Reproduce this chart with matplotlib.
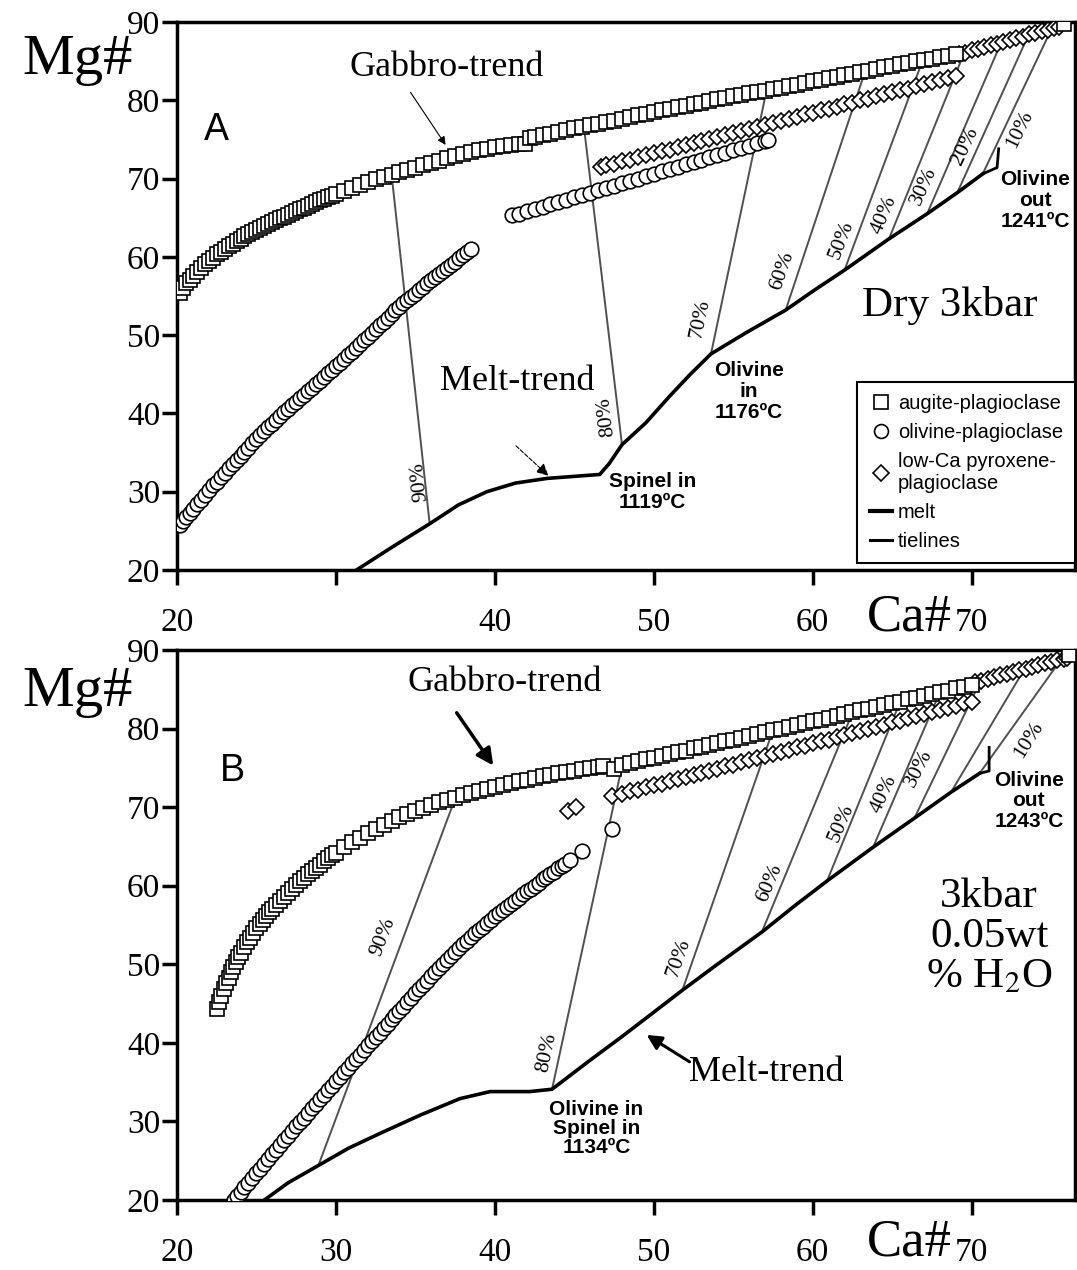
"""
Mg# vs Ca# of gabbro and melt trends, two panels (A: dry 3 kbar, B: 3 kbar 0.05 wt% H2O).
Values read by eye from the published figure.
"""

import matplotlib
matplotlib.use("Agg")
import matplotlib.pyplot as plt
from matplotlib.lines import Line2D

SERIF = "Liberation Serif"
SANS = "Liberation Sans"
plt.rcParams["mathtext.fontset"] = "stix"

# ---------------- Panel A (dry 3 kbar) ----------------
a_aug1_ca = [20.2, 20.4, 20.6, 20.8, 21.0, 21.25, 21.5, 21.75, 22.0, 22.25,
             22.5, 22.75, 23.0, 23.25, 23.5, 23.75, 24.0, 24.25, 24.5, 24.75,
             25.0, 25.25, 25.5, 25.75, 26.0, 26.25, 26.5, 26.75, 27.0, 27.25,
             27.5, 27.75, 28.0, 28.25, 28.5, 28.75, 29.0, 29.25, 29.5, 29.75,
             30.0, 30.5, 31.0, 31.5, 32.0, 32.5, 33.0, 33.5, 34.0, 34.5,
             35.0, 35.5, 36.0, 36.5, 37.0, 37.5, 38.0, 38.5, 39.0, 39.5,
             40.0, 40.5, 41.0, 41.5, 41.9]
a_aug1_mg = [55.4, 56.0, 56.6, 57.1, 57.6, 58.1, 58.6, 59.05, 59.5, 59.9,
             60.3, 60.65, 61.0, 61.35, 61.7, 62.0, 62.3, 62.6, 62.9, 63.15,
             63.4, 63.65, 63.9, 64.15, 64.4, 64.65, 64.9, 65.15, 65.4, 65.65,
             65.9, 66.1, 66.3, 66.55, 66.8, 67.0, 67.2, 67.4, 67.6, 67.8,
             68.0, 68.4, 68.8, 69.2, 69.5, 69.9, 70.2, 70.5, 70.8, 71.1,
             71.4, 71.7, 72.0, 72.3, 72.6, 72.9, 73.1, 73.4, 73.6, 73.8,
             74.0, 74.2, 74.3, 74.4, 74.4]
a_aug2_ca = [42.2, 42.5, 43.0, 43.5, 44.0, 44.5, 45.0, 45.5, 46.0, 46.5,
             47.0, 47.5, 48.0, 48.5, 49.0, 49.5, 50.0, 50.5, 51.0, 51.5,
             52.0, 52.5, 53.0, 53.5, 54.0, 54.5, 55.0, 55.5, 56.0, 56.5,
             57.0, 57.5, 58.0, 58.5, 59.0, 59.5, 60.0, 60.5, 61.0, 61.5,
             62.0, 62.5, 63.0, 63.5, 64.0, 64.5, 65.0, 65.5, 66.0, 66.5,
             67.0, 67.5, 68.0, 68.5, 69.0, 75.8]
a_aug2_mg = [75.2, 75.3, 75.5, 75.7, 75.9, 76.2, 76.4, 76.6, 76.8, 77.0,
             77.2, 77.4, 77.6, 77.8, 78.1, 78.3, 78.5, 78.7, 78.9, 79.1,
             79.3, 79.5, 79.7, 79.9, 80.1, 80.3, 80.5, 80.7, 80.9, 81.1,
             81.2, 81.4, 81.6, 81.8, 82.0, 82.2, 82.4, 82.6, 82.8, 83.0,
             83.2, 83.4, 83.6, 83.8, 84.0, 84.2, 84.4, 84.6, 84.8, 85.0,
             85.1, 85.3, 85.5, 85.7, 85.9, 89.7]

a_ol1_ca = [20.2, 20.4, 20.6, 20.8, 21.0, 21.25, 21.5, 21.75, 22.0, 22.25,
            22.5, 22.75, 23.0, 23.25, 23.5, 23.75, 24.0, 24.25, 24.5, 24.75,
            25.0, 25.25, 25.5, 25.75, 26.0, 26.25, 26.5, 26.75, 27.0, 27.25,
            27.5, 27.75, 28.0, 28.25, 28.5, 28.75, 29.0, 29.25, 29.5, 29.75,
            30.0, 30.25, 30.5, 30.75, 31.0, 31.25, 31.5, 31.75, 32.0, 32.25,
            32.5, 32.75, 33.0, 33.25, 33.5, 33.75, 34.0, 34.25, 34.5, 34.75,
            35.0, 35.25, 35.5, 35.75, 36.0, 36.25, 36.5, 36.75, 37.0, 37.25,
            37.5, 37.75, 38.0, 38.25, 38.5]
a_ol1_mg = [25.8, 26.3, 26.8, 27.3, 27.8, 28.4, 29.0, 29.6, 30.2, 30.8,
            31.3, 31.9, 32.4, 33.0, 33.5, 34.1, 34.6, 35.1, 35.6, 36.2,
            36.7, 37.2, 37.7, 38.2, 38.7, 39.2, 39.7, 40.2, 40.6, 41.1,
            41.5, 42.0, 42.4, 42.9, 43.3, 43.8, 44.2, 44.7, 45.1, 45.6,
            46.0, 46.5, 47.0, 47.5, 47.9, 48.4, 48.9, 49.4, 49.8, 50.3,
            50.8, 51.3, 51.7, 52.2, 52.7, 53.2, 53.6, 54.1, 54.5, 54.9,
            55.3, 55.8, 56.2, 56.6, 57.0, 57.4, 57.8, 58.2, 58.6, 59.0,
            59.4, 59.8, 60.2, 60.6, 61.0]
a_ol2_ca = [41.1, 41.5, 42.0, 42.5, 43.0, 43.5, 44.0, 44.5, 45.0, 45.5,
            46.0, 46.5, 47.0, 47.5, 48.0, 48.5, 49.0, 49.5, 50.0, 50.5,
            51.0, 51.5, 52.0, 52.5, 53.0, 53.5, 54.0, 54.5, 55.0, 55.5,
            56.0, 56.5, 57.0, 57.2]
a_ol2_mg = [65.3, 65.5, 65.8, 66.1, 66.4, 66.7, 67.0, 67.3, 67.6, 67.9,
            68.2, 68.5, 68.8, 69.1, 69.4, 69.7, 70.0, 70.3, 70.6, 70.9,
            71.2, 71.5, 71.8, 72.1, 72.4, 72.7, 73.0, 73.3, 73.6, 73.9,
            74.2, 74.5, 74.8, 74.9]

a_px1_ca = [46.7, 47.0, 47.5, 48.0, 48.5, 49.0, 49.5, 50.0, 50.5, 51.0,
            51.5, 52.0, 52.5, 53.0, 53.5, 54.0, 54.5, 55.0, 55.5, 56.0,
            56.5, 57.0, 57.5, 58.0, 58.5, 59.0, 59.5, 60.0, 60.5, 61.0,
            61.5, 62.0, 62.5, 63.0, 63.5, 64.0, 64.5, 65.0, 65.5, 66.0,
            66.5, 67.0, 67.5, 68.0, 68.5, 69.0]
a_px1_mg = [71.5, 71.7, 71.9, 72.2, 72.4, 72.7, 73.0, 73.2, 73.5, 73.7,
            74.0, 74.3, 74.5, 74.8, 75.0, 75.3, 75.6, 75.8, 76.1, 76.3,
            76.6, 76.9, 77.1, 77.4, 77.6, 77.9, 78.2, 78.4, 78.7, 78.9,
            79.2, 79.5, 79.7, 80.0, 80.2, 80.5, 80.8, 81.0, 81.3, 81.5,
            81.8, 82.1, 82.3, 82.6, 82.8, 83.1]
a_px2_ca = [69.2, 69.6, 70.0, 70.4, 70.8, 71.2, 71.6, 72.0, 72.4, 72.8,
            73.2, 73.6, 74.0, 74.4, 74.8, 75.2, 75.5]
a_px2_mg = [85.9, 86.1, 86.4, 86.6, 86.8, 87.0, 87.2, 87.5, 87.7, 87.9,
            88.1, 88.4, 88.6, 88.8, 89.0, 89.2, 89.4]

a_melt_ca = [31.3, 33.6, 35.9, 37.7, 39.5, 41.3, 43.3, 46.6, 47.2, 48.0,
             49.5, 51.0, 52.3, 53.6, 55.8, 58.3, 60.0, 62.0, 64.8, 67.2,
             69.1, 70.7]
a_melt_mg = [20.0, 23.0, 25.9, 28.3, 30.0, 31.1, 31.7, 32.2, 33.6, 36.0,
             38.8, 42.2, 45.0, 47.6, 50.3, 53.2, 55.6, 58.3, 62.3, 65.5,
             68.2, 70.6]

# tielines: melt end -> solid end
a_tie_labels = ["90%", "80%", "70%", "60%", "50%", "40%", "30%", "20%", "10%"]
a_tie_ca0 = [35.9, 48.0, 53.6, 58.3, 62.0, 64.8, 67.2, 69.1, 70.7]
a_tie_mg0 = [25.9, 36.0, 47.6, 53.2, 58.3, 62.3, 65.5, 68.2, 70.6]
a_tie_ca1 = [33.5, 45.6, 57.1, 63.3, 66.9, 69.6, 71.8, 73.5, 75.0]
a_tie_mg1 = [70.6, 76.7, 81.3, 83.7, 85.0, 86.4, 87.1, 88.0, 89.0]
a_lab_ca = [35.3, 47.0, 52.9, 58.1, 61.8, 64.5, 67.0, 69.6, 73.0]
a_lab_mg = [31.3, 39.6, 52.1, 58.2, 62.2, 65.4, 69.1, 74.1, 76.3]
a_lab_rot = [96, 97, 78, 71, 69, 67, 66, 65, 64]

# ---------------- Panel B (3 kbar, 0.05 wt% H2O) ----------------
b_aug1_ca = [22.5, 22.65, 22.8, 22.95, 23.1, 23.25, 23.4, 23.55, 23.7, 23.85,
             24.0, 24.2, 24.4, 24.6, 24.8, 25.0, 25.2, 25.4, 25.6, 25.8,
             26.0, 26.25, 26.5, 26.75, 27.0, 27.25, 27.5, 27.75, 28.0, 28.25,
             28.5, 28.75, 29.0, 29.25, 29.5, 29.75, 30.0, 30.5,
             31.0, 31.5, 32.0, 32.5, 33.0, 33.5, 34.0, 34.5, 35.0, 35.5,
             36.0, 36.5, 37.0, 37.5, 38.0, 38.5, 39.0, 39.5, 40.0, 40.5,
             41.0, 41.5, 42.0, 42.5, 43.0, 43.5, 44.0, 44.5, 45.0, 45.5,
             46.0, 46.5, 46.8, 47.5]
b_aug1_mg = [44.3, 45.2, 46.0, 46.8, 47.6, 48.3, 49.0, 49.7, 50.3, 50.9,
             51.5, 52.2, 52.8, 53.4, 54.0, 54.6, 55.1, 55.6, 56.1, 56.6,
             57.0, 57.6, 58.1, 58.6, 59.1, 59.6, 60.1, 60.6, 61.0, 61.5,
             61.9, 62.3, 62.7, 63.1, 63.5, 63.9, 64.2, 64.9,
             65.5, 66.1, 66.7, 67.2, 67.7, 68.2, 68.7, 69.1, 69.5, 69.9,
             70.3, 70.6, 70.9, 71.2, 71.5, 71.8, 72.1, 72.3, 72.6, 72.8,
             73.1, 73.3, 73.5, 73.7, 73.9, 74.1, 74.3, 74.5, 74.6, 74.8,
             75.0, 75.1, 75.2, 74.9]
b_aug2_ca = [48.0, 48.5, 49.0, 49.5, 50.0, 50.5, 51.0, 51.5, 52.0, 52.5,
             53.0, 53.5, 54.0, 54.5, 55.0, 55.5, 56.0, 56.5, 57.0, 57.5,
             58.0, 58.5, 59.0, 59.5, 60.0, 60.5, 61.0, 61.5, 62.0, 62.5,
             63.0, 63.5, 64.0, 64.5, 65.0, 65.5, 66.0, 66.5, 67.0, 67.5,
             68.0, 68.5, 69.0, 69.5, 70.0, 76.1]
b_aug2_mg = [75.4, 75.6, 75.9, 76.1, 76.3, 76.5, 76.8, 77.0, 77.2, 77.5,
             77.7, 77.9, 78.2, 78.4, 78.6, 78.8, 79.1, 79.3, 79.5, 79.8,
             80.0, 80.2, 80.5, 80.7, 80.9, 81.1, 81.4, 81.6, 81.8, 82.1,
             82.3, 82.5, 82.8, 83.0, 83.2, 83.4, 83.7, 83.9, 84.1, 84.4,
             84.6, 84.8, 85.1, 85.3, 85.5, 89.4]

b_ol1_ca = [23.6, 23.8, 24.0, 24.25, 24.5, 24.75, 25.0, 25.25, 25.5, 25.75,
            26.0, 26.25, 26.5, 26.75, 27.0, 27.25, 27.5, 27.75, 28.0, 28.25,
            28.5, 28.75, 29.0, 29.25, 29.5, 29.75, 30.0, 30.25, 30.5, 30.75,
            31.0, 31.25, 31.5, 31.75, 32.0, 32.25, 32.5, 32.75, 33.0, 33.25,
            33.5, 33.75, 34.0, 34.25, 34.5, 34.75, 35.0, 35.25, 35.5, 35.75,
            36.0, 36.25, 36.5, 36.75, 37.0, 37.25, 37.5, 37.75, 38.0, 38.25,
            38.5, 38.75, 39.0, 39.25, 39.5, 39.75, 40.0, 40.25, 40.5, 40.75,
            41.0, 41.25, 41.5, 41.75, 42.0, 42.25, 42.5, 42.75, 43.0, 43.25,
            43.5, 43.75, 44.0, 44.2, 44.4, 44.7]
b_ol1_mg = [20.0, 20.5, 21.0, 21.6, 22.2, 22.8, 23.4, 24.0, 24.6, 25.2,
            25.8, 26.4, 27.0, 27.6, 28.2, 28.8, 29.4, 29.9, 30.5, 31.1,
            31.7, 32.2, 32.8, 33.4, 34.0, 34.5, 35.1, 35.7, 36.3, 36.8,
            37.4, 37.9, 38.5, 39.1, 39.7, 40.2, 40.8, 41.3, 41.9, 42.4,
            43.0, 43.5, 44.1, 44.6, 45.2, 45.7, 46.3, 46.8, 47.4, 47.9,
            48.5, 49.0, 49.5, 50.0, 50.6, 51.1, 51.6, 52.1, 52.6, 53.0,
            53.5, 54.0, 54.4, 54.8, 55.3, 55.7, 56.1, 56.5, 56.9, 57.3,
            57.7, 58.1, 58.5, 58.9, 59.3, 59.6, 60.0, 60.4, 60.8, 61.1,
            61.5, 61.8, 62.2, 62.5, 62.8, 63.3]
b_ol2_ca = [45.5, 47.4]
b_ol2_mg = [64.4, 67.2]

b_px0_ca = [44.6, 45.1]
b_px0_mg = [69.5, 70.0]
b_px1_ca = [47.4, 48.0, 48.5, 49.0, 49.5, 50.0, 50.5, 51.0, 51.5, 52.0,
            52.5, 53.0, 53.5, 54.0, 54.5, 55.0, 55.5, 56.0, 56.5, 57.0,
            57.5, 58.0, 58.5, 59.0, 59.5, 60.0, 60.5, 61.0, 61.5, 62.0,
            62.5, 63.0, 63.5, 64.0, 64.5, 65.0, 65.5, 66.0, 66.5, 67.0,
            67.5, 68.0, 68.5, 69.0, 69.5, 70.0]
b_px1_mg = [71.4, 71.7, 72.0, 72.2, 72.5, 72.8, 73.0, 73.3, 73.6, 73.8,
            74.1, 74.4, 74.6, 74.9, 75.2, 75.4, 75.7, 76.0, 76.2, 76.5,
            76.8, 77.0, 77.3, 77.6, 77.8, 78.1, 78.4, 78.6, 78.9, 79.2,
            79.4, 79.7, 80.0, 80.2, 80.5, 80.8, 81.0, 81.3, 81.6, 81.8,
            82.1, 82.4, 82.6, 82.9, 83.2, 83.4]
b_px2_ca = [70.2, 70.6, 71.0, 71.4, 71.8, 72.2, 72.6, 73.0, 73.4, 73.8,
            74.2, 74.6, 75.0, 75.4, 75.8, 76.0]
b_px2_mg = [85.9, 86.1, 86.3, 86.6, 86.8, 87.0, 87.2, 87.4, 87.6, 87.8,
            88.1, 88.3, 88.5, 88.7, 88.9, 89.0]

b_melt_ca = [25.5, 27.0, 28.9, 30.8, 32.8, 35.3, 37.8, 39.7, 42.2, 43.6,
             46.0, 48.0, 50.0, 51.8, 54.0, 56.8, 58.9, 60.9, 63.8, 66.4,
             68.7, 70.5]
b_melt_mg = [20.0, 22.2, 24.4, 26.6, 28.5, 30.8, 32.9, 33.8, 33.8, 34.1,
             37.8, 40.8, 43.9, 46.7, 50.0, 54.1, 57.5, 60.6, 64.9, 68.6,
             71.9, 74.3]

b_tie_ca0 = [28.9, 43.6, 51.8, 56.8, 60.9, 63.8, 66.4, 68.7, 70.5]
b_tie_mg0 = [24.4, 34.1, 46.7, 54.1, 60.6, 64.9, 68.6, 71.9, 74.3]
b_tie_ca1 = [37.3, 48.0, 57.5, 62.5, 65.5, 68.0, 70.5, 73.3, 75.7]
b_tie_mg1 = [70.0, 75.2, 79.8, 82.0, 83.4, 84.6, 85.8, 87.5, 89.0]
b_tie_labels = ["90%", "80%", "70%", "60%", "50%", "40%", "30%", "10%"]
b_lab_ca = [33.0, 43.3, 51.6, 57.3, 61.8, 64.5, 66.7, 73.6]
b_lab_mg = [53.5, 38.7, 50.8, 60.3, 68.0, 71.7, 74.9, 78.5]
b_lab_rot = [69, 78, 71, 67, 67, 65, 63, 58]

x_ticks = [20, 30, 40, 50, 60, 70]
a_xticklabels = ["20", "", "40", "50", "60", "70"]
b_xticklabels = ["20", "30", "40", "50", "60", "70"]
y_ticks = [20, 30, 40, 50, 60, 70, 80, 90]

MK = dict(ls="none", mfc="white", mec="black", mew=1.2)


def draw_panel(ax, aug, ol, px, melt, ties, labels, xticklabels):
    """Squares, circles, diamonds, melt line and tielines for one panel."""
    for x0, y0, x1, y1 in zip(*ties):
        ax.plot([x0, x1], [y0, y1], color="#505050", lw=1.4, zorder=1)
    ax.plot(melt[0], melt[1], color="black", lw=2.6, zorder=2)

    for cx, cy in ol:
        ax.plot(cx, cy, marker="o", ms=10.5, zorder=3, **MK)
    for cx, cy in px:
        ax.plot(cx, cy, marker="D", ms=8, zorder=3, **MK)
    for cx, cy in aug:
        ax.plot(cx, cy, marker="s", ms=10, zorder=4, **MK)

    for txt, lx, ly, rot in zip(*labels):
        ax.text(lx, ly, txt, rotation=rot, fontsize=15.5, family=SERIF,
                ha="center", va="center", rotation_mode="anchor")

    ax.set_xlim(20, 76.5)
    ax.set_ylim(20, 90)
    ax.set_xticks(x_ticks)
    ax.set_xticklabels(xticklabels)
    ax.set_yticks(y_ticks)
    for lab in ax.get_xticklabels() + ax.get_yticklabels():
        lab.set_family(SERIF)
    ax.tick_params(axis="both", direction="out", length=11, width=2.5,
                   labelsize=24)
    ax.tick_params(axis="x", pad=16)
    ax.tick_params(axis="y", pad=1)
    for sp in ax.spines.values():
        sp.set_linewidth(2.5)


def main():
    fig = plt.figure(figsize=(10.77, 12.7), dpi=100)
    axA = fig.add_axes([0.1643, 0.5512, 0.8338, 0.4315])
    axB = fig.add_axes([0.1643, 0.0551, 0.8338, 0.4331])

    # ---- panel A ----
    draw_panel(axA,
               [(a_aug1_ca, a_aug1_mg), (a_aug2_ca, a_aug2_mg)],
               [(a_ol1_ca, a_ol1_mg), (a_ol2_ca, a_ol2_mg)],
               [(a_px1_ca, a_px1_mg), (a_px2_ca, a_px2_mg)],
               (a_melt_ca, a_melt_mg),
               (a_tie_ca0, a_tie_mg0, a_tie_ca1, a_tie_mg1),
               (a_tie_labels, a_lab_ca, a_lab_mg, a_lab_rot),
               a_xticklabels)
    # olivine-out hook
    axA.plot([70.7, 71.6, 71.7], [70.6, 71.4, 73.8], color="black", lw=2, zorder=2)

    axA.text(37.0, 84.2, "Gabbro-trend", family=SERIF, fontsize=26,
             ha="center", va="center")
    axA.annotate("", xy=(37.0, 74.0), xytext=(34.6, 81.3),
                 arrowprops=dict(arrowstyle="-|>", lw=0.8, color="black",
                                 mutation_scale=12))
    axA.text(22.5, 76.2, "A", family=SANS, fontsize=27, ha="center", va="center")
    axA.text(41.4, 44.1, "Melt-trend", family=SERIF, fontsize=26,
             ha="center", va="center")
    axA.annotate("", xy=(43.5, 31.8), xytext=(41.2, 36.1),
                 arrowprops=dict(arrowstyle="-|>", lw=0.8, ls="--",
                                 color="black", mutation_scale=18))
    axA.text(49.9, 30.0, "Spinel in\n1119ºC", family=SANS, weight="bold",
             fontsize=15, ha="center", va="center", linespacing=1.15)
    axA.text(56.0, 42.8, "Olivine\nin\n1176ºC", family=SANS, weight="bold",
             fontsize=15, ha="center", va="center", linespacing=1.15)
    axA.text(74.0, 67.2, "Olivine\nout\n1241ºC", family=SANS, weight="bold",
             fontsize=15, ha="center", va="center", linespacing=1.15)
    axA.text(68.6, 53.8, "Dry 3kbar", family=SERIF, fontsize=31,
             ha="center", va="center")

    handles = [
        Line2D([], [], marker="s", ms=10, **MK),
        Line2D([], [], marker="o", ms=10, **MK),
        Line2D([], [], marker="D", ms=8, **MK),
        Line2D([], [], color="black", lw=3),
        Line2D([], [], color="black", lw=2.2),
    ]
    names = ["augite-plagioclase", "olivine-plagioclase",
             "low-Ca pyroxene-\nplagioclase", "melt", "tielines"]
    leg = axA.legend(handles, names, loc="lower right",
                     bbox_to_anchor=(1.0, 0.012), borderaxespad=0.0,
                     prop={"family": SANS, "size": 14.5}, handlelength=1.1,
                     handletextpad=0.3, labelspacing=0.5, fancybox=False,
                     framealpha=1, edgecolor="black", borderpad=0.6)
    leg.get_frame().set_linewidth(1.5)

    # ---- panel B ----
    draw_panel(axB,
               [(b_aug1_ca, b_aug1_mg), (b_aug2_ca, b_aug2_mg)],
               [(b_ol1_ca, b_ol1_mg), (b_ol2_ca, b_ol2_mg)],
               [(b_px0_ca, b_px0_mg), (b_px1_ca, b_px1_mg), (b_px2_ca, b_px2_mg)],
               (b_melt_ca, b_melt_mg),
               (b_tie_ca0, b_tie_mg0, b_tie_ca1, b_tie_mg1),
               (b_tie_labels, b_lab_ca, b_lab_mg, b_lab_rot),
               b_xticklabels)
    axB.plot([70.5, 71.1, 71.1], [74.3, 74.6, 77.6], color="black", lw=2, zorder=2)

    axB.text(40.6, 85.8, "Gabbro-trend", family=SERIF, fontsize=26,
             ha="center", va="center")
    axB.annotate("", xy=(40.0, 75.0), xytext=(37.5, 82.3),
                 arrowprops=dict(arrowstyle="-|>", lw=2.5, color="black",
                                 mutation_scale=25))
    axB.text(23.5, 74.6, "B", family=SANS, fontsize=27, ha="center", va="center")
    axB.text(57.1, 36.2, "Melt-trend", family=SERIF, fontsize=26,
             ha="center", va="center")
    axB.annotate("", xy=(49.4, 41.2), xytext=(52.4, 37.4),
                 arrowprops=dict(arrowstyle="-|>", lw=2.2, color="black",
                                 mutation_scale=22))
    axB.text(46.4, 29.1, "Olivine in\nSpinel in\n1134ºC", family=SANS,
             weight="bold", fontsize=15, ha="center", va="center",
             linespacing=1.0)
    axB.text(73.6, 70.8, "Olivine\nout\n1243ºC", family=SANS, weight="bold",
             fontsize=15, ha="center", va="center", linespacing=1.1)
    axB.text(71.1, 53.5, "3kbar\n0.05wt\n% H$_2$O", family=SERIF, fontsize=31,
             ha="center", va="center", linespacing=1.05)

    # axis titles
    for yy in (0.953, 0.455):
        fig.text(0.072, yy, "Mg#", family=SERIF, fontsize=42, ha="center",
                 va="center")
    for yy in (0.514, 0.022):
        fig.text(0.884, yy, "Ca#", family=SERIF, fontsize=38, ha="right",
                 va="center")

    fig.savefig("out.png", dpi=100)


if __name__ == "__main__":
    main()
